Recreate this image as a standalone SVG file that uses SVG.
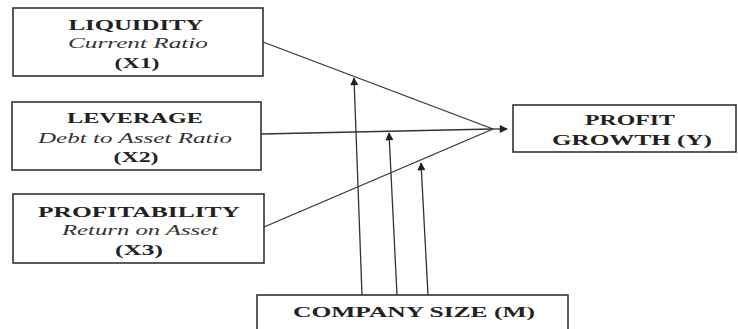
<svg xmlns="http://www.w3.org/2000/svg" width="738" height="329" viewBox="0 0 738 329">
  <defs>
    <marker id="ah" viewBox="0 0 10 10" refX="9" refY="5" markerWidth="9" markerHeight="8" markerUnits="userSpaceOnUse" orient="auto">
      <path d="M0,0 L10,5 L0,10 z" fill="#222"/>
    </marker>
    <style>
      .box { fill: #fff; stroke: #333; stroke-width: 1.6; }
      .b { font-family: "Liberation Serif", "Times New Roman", serif; font-weight: bold; font-size: 15px; fill: #222; text-anchor: middle; }
      .i { font-family: "Liberation Serif", "Times New Roman", serif; font-style: italic; font-size: 15px; fill: #333; text-anchor: middle; }
      .ln { fill: none; stroke: #333; stroke-width: 1.3; }
    </style>
  </defs>
  <rect width="738" height="329" fill="#fff"/>

  <g id="liquidity">
    <rect class="box" x="13" y="8" width="250" height="68"/>
    <text class="b" x="136" y="30" textLength="135" lengthAdjust="spacingAndGlyphs">LIQUIDITY</text>
    <text class="i" x="138" y="48" textLength="140" lengthAdjust="spacingAndGlyphs">Current Ratio</text>
    <text class="b" x="137" y="68" textLength="45" lengthAdjust="spacingAndGlyphs">(X1)</text>
  </g>

  <g id="leverage">
    <rect class="box" x="12" y="102" width="249" height="68"/>
    <text class="b" x="135" y="123" textLength="136" lengthAdjust="spacingAndGlyphs">LEVERAGE</text>
    <text class="i" x="135" y="143" textLength="194" lengthAdjust="spacingAndGlyphs">Debt to Asset Ratio</text>
    <text class="b" x="136" y="162" textLength="45" lengthAdjust="spacingAndGlyphs">(X2)</text>
  </g>

  <g id="profitability">
    <rect class="box" x="13" y="194" width="251" height="69"/>
    <text class="b" x="139" y="217" textLength="202" lengthAdjust="spacingAndGlyphs">PROFITABILITY</text>
    <text class="i" x="140" y="235" textLength="156" lengthAdjust="spacingAndGlyphs">Return on Asset</text>
    <text class="b" x="139" y="255" textLength="48" lengthAdjust="spacingAndGlyphs">(X3)</text>
  </g>

  <g id="profit-growth">
    <rect class="box" x="513" y="105" width="223" height="47"/>
    <text class="b" x="630" y="125" textLength="90" lengthAdjust="spacingAndGlyphs">PROFIT</text>
    <text class="b" x="632" y="145" textLength="160" lengthAdjust="spacingAndGlyphs">GROWTH (Y)</text>
  </g>

  <g id="company-size">
    <rect class="box" x="257" y="295" width="311" height="40"/>
    <text class="b" x="414" y="317" textLength="242" lengthAdjust="spacingAndGlyphs">COMPANY SIZE (M)</text>
  </g>

  <g id="connectors">
    <line class="ln" x1="263" y1="42" x2="493" y2="129"/>
    <line class="ln" x1="261" y1="134" x2="493" y2="129"/>
    <line class="ln" x1="264" y1="227" x2="493" y2="129"/>
    <line class="ln" x1="492" y1="129" x2="507" y2="129" marker-end="url(#ah)"/>
    <line class="ln" x1="362" y1="295" x2="354" y2="78" marker-end="url(#ah)"/>
    <line class="ln" x1="397" y1="295" x2="389" y2="133" marker-end="url(#ah)"/>
    <line class="ln" x1="428" y1="295" x2="421" y2="163" marker-end="url(#ah)"/>
  </g>
</svg>
